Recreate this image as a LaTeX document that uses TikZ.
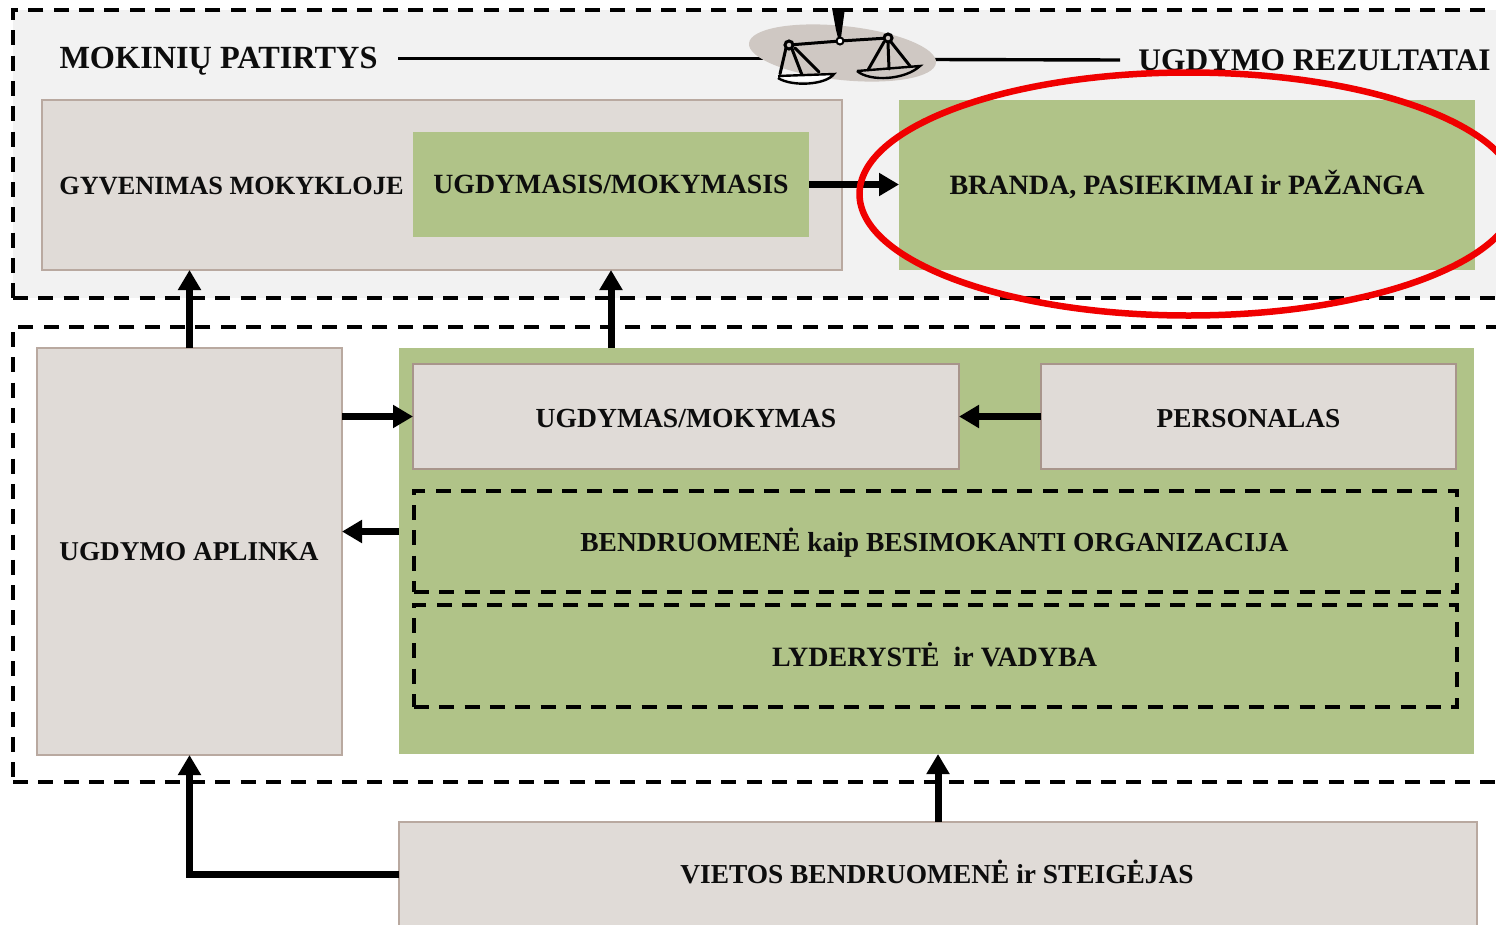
\documentclass[tikz,border=0pt]{standalone}
\usepackage{fontspec}
\setmainfont{Liberation Serif}
\usetikzlibrary{arrows.meta,shapes.geometric}
\definecolor{boxgrey}{HTML}{E0DBD7}
\definecolor{boxline}{HTML}{B9A9A0}
\definecolor{boxlineb}{HTML}{A8958B}
\definecolor{boxgreen}{HTML}{B0C388}
\definecolor{panel}{HTML}{F2F2F2}
\definecolor{scalegrey}{HTML}{CFC8C3}
\definecolor{ringred}{HTML}{F00000}
\newcommand{\lblsize}[1]{\fontsize{#1}{32}\selectfont\bfseries}
\tikzset{
  x=1pt,y=-1pt,
  greybox/.style={draw=boxline,line width=1.3pt,fill=boxgrey,inner sep=0pt,outer sep=0pt},
  greyboxb/.style={greybox,draw=boxlineb,line width=2.4pt},
  lbl/.style={font=\lblsize{28},inner sep=0pt,outer sep=0pt,text=black!95},
  greenbox/.style={fill=boxgreen,inner sep=0pt,outer sep=0pt,lbl},
  dashbox/.style={draw=black,line width=3.2pt,dash pattern=on 15pt off 10.3pt,inner sep=0pt,outer sep=0pt},
  flow/.style={line width=7pt,-{Triangle[length=20pt,width=22pt]}},
  titleline/.style={line width=3.4pt},
  scaleink/.style={line width=3pt,line cap=round},
}
\begin{document}
\begin{tikzpicture}
\useasboundingbox (0,0) rectangle (1496,924);
\clip (0,0) rectangle (1496,924);
% panels
\node[dashbox,fill=panel,minimum width=1503pt,minimum height=288pt] (top) at (764.5,154) {};
\node[dashbox,minimum width=1503pt,minimum height=455pt] (low) at (764.5,554.5) {};
% upper row
\node[greybox,minimum width=800pt,minimum height=170pt] (life) at (442,185) {};
\node[lbl,font=\lblsize{26.3}] (lifet) at (231.5,185.5) {GYVENIMAS MOKYKLOJE};
\node[greenbox,font=\lblsize{27.8},minimum width=396pt,minimum height=105pt] (learn) at (611,184.5) {\raisebox{-1pt}{UGDYMASIS/MOKYMASIS}};
\node[greenbox,minimum width=576pt,minimum height=170pt] (result) at (1187,184.5) {BRANDA, PASIEKIMAI ir PAŽANGA};
% titles
\node[lbl,font=\lblsize{32.3}] (exp) at (218.5,61.5) {MOKINIŲ PATIRTYS};
\node[lbl,font=\lblsize{31.4}] (res) at (1314.5,60) {UGDYMO REZULTATAI};
\coordinate (scl) at (765,58.5);
\coordinate (scr) at (932,59.5);
\coordinate (resl) at (1120,60);
\coordinate (expl) at (398,58.5);
\draw[titleline] (expl) -- (scl);
\draw[titleline] (scr) -- (resl);
% scale
\node[fill=scalegrey,ellipse,inner sep=0pt,outer sep=0pt,minimum width=188pt,minimum height=54pt,rotate=-6] (scale) at (842.5,53) {};
\fill[black] (832,8) -- (845,8) -- (842,30) -- (841,38) -- (838,38) -- (836,30) -- cycle;
\draw[scaleink] (789,45) -- (840,41) -- (888,38);
\draw[line width=2pt,fill=white] (840,41) circle (3.5);
\draw[line width=3pt,fill=scalegrey] (789,45) circle (4);
\draw[line width=3pt,fill=scalegrey] (888,38) circle (4);
\draw[scaleink] (786,48) -- (780,74) (792,49) -- (802,75) (795,48) -- (819,72);
\draw[scaleink] (884,42) -- (868,70) (888,43) -- (889,69) (891,42) -- (910,66);
\fill[white] (775,75) -- (833,74) .. controls (825,82) and (790,84) .. (775,75) -- cycle;
\draw[line width=2.4pt] (778,76) -- (834,74) .. controls (826,85) and (792,87) .. (778,78);
\draw[line width=2.4pt] (857,71) -- (920,66) .. controls (905,80) and (870,82) .. (857,71);
% lower row
\node[greybox,minimum width=305pt,minimum height=407pt] (env) at (189.5,551.5) {};
\node[lbl,font=\lblsize{27.2}] (envt) at (189,551.5) {UGDYMO APLINKA};
\node[greenbox,minimum width=1075pt,minimum height=406pt] (big) at (936.5,551) {};
\node[greyboxb,minimum width=546pt,minimum height=105pt] (teach) at (686,416.5) {};
\node[lbl,font=\lblsize{27.6}] (teacht) at (686,418.5) {UGDYMAS/MOKYMAS};
\node[greyboxb,minimum width=415pt,minimum height=105pt] (staff) at (1248.5,416.5) {};
\node[lbl,font=\lblsize{27.3}] (stafft) at (1248.5,418.5) {PERSONALAS};
\node[dashbox,minimum width=1043pt,minimum height=101pt] (comm) at (935.5,541.5) {};
\node[lbl,font=\lblsize{27.5}] (commt) at (934.5,543) {BENDRUOMENĖ kaip BESIMOKANTI ORGANIZACIJA};
\node[dashbox,minimum width=1043pt,minimum height=102pt] (lead) at (935.5,656) {};
\node[lbl] (leadt) at (934.5,654.5) {LYDERYSTĖ\ \ ir VADYBA};
\node[greybox,minimum width=1078pt,minimum height=104pt] (local) at (938,874) {};
\node[lbl,font=\lblsize{27.4}] (localt) at (937,872) {VIETOS BENDRUOMENĖ ir STEIGĖJAS};
% connectors
\draw[flow] (learn.east) -- (result.west);
\draw[flow] (env.north) -- (life.south -| env.north);
\draw[flow] (big.north -| learn.south) -- (learn.south |- life.south);
\draw[flow] (env.east |- teach.west) -- (teach.west);
\draw[flow] (staff.west) -- (teach.east |- staff.west);
\draw[flow] ([yshift=10pt]big.west |- comm.west) -- ([yshift=10pt]env.east |- comm.west);
\draw[flow] (local.north) -- (local.north |- big.south);
\draw[flow] (local.west) -| (env.south);
% ring
\node[draw=ringred,line width=6.5pt,ellipse,fill=none,inner sep=0pt,minimum width=658pt,minimum height=243pt] (ring) at (1188.5,194) {};
\end{tikzpicture}
\end{document}
